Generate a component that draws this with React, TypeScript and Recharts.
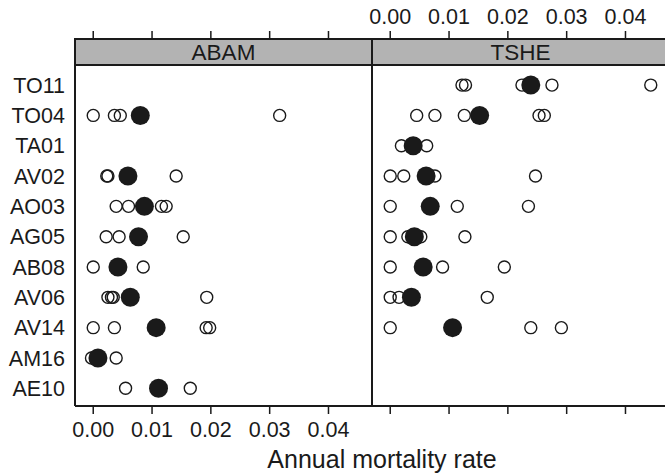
import React from "react";
import { ScatterChart, Scatter, XAxis, YAxis, ReferenceArea } from "recharts";

// sites, top to bottom
const sites = ["TO11", "TO04", "TA01", "AV02", "AO03", "AG05", "AB08", "AV06", "AV14", "AM16", "AE10"];

// per-plot annual mortality rates (open circles), one list per site
const abamPlots: number[][] = [
  [],
  [0.0, 0.0036, 0.0046, 0.0317],
  [],
  [0.0023, 0.0025, 0.0141],
  [0.0039, 0.006, 0.0116, 0.0124],
  [0.0022, 0.0044, 0.0153],
  [0.0, 0.0085],
  [0.0025, 0.0031, 0.0034, 0.0193],
  [0.0, 0.0036, 0.0192, 0.0198],
  [-0.0003, 0.0039],
  [0.0055, 0.0165],
];
// site means (filled circles)
const abamMeans: (number | null)[] = [null, 0.008, null, 0.0059, 0.0087, 0.0077, 0.0042, 0.0063, 0.0107, 0.0008, 0.0111];

const tshePlots: number[][] = [
  [0.0122, 0.0128, 0.0224, 0.0275, 0.0443],
  [0.0045, 0.0076, 0.0126, 0.0253, 0.0262],
  [0.0019, 0.0035, 0.0062],
  [0.0, 0.0023, 0.0076, 0.0247],
  [0.0, 0.0114, 0.0235],
  [0.0, 0.003, 0.0052, 0.0127],
  [0.0, 0.0089, 0.0194],
  [0.0, 0.0015, 0.0165],
  [0.0, 0.0239, 0.0291],
  [],
  [],
];
const tsheMeans: (number | null)[] = [0.0239, 0.0152, 0.0039, 0.0061, 0.0068, 0.0041, 0.0056, 0.0036, 0.0106, null, null];

const xTicks = [0, 0.01, 0.02, 0.03, 0.04];
const xDomain = [-0.0031, 0.0474];
const yDomain = [-0.584, 11.52];
const stripBottom = 10.66;
const rowTicks = sites.map((_, i) => i);

const INK = "#1a1a1a";
const FONT = "'Liberation Sans', Arial, Helvetica, sans-serif";
const fmt = (v: number) => v.toFixed(2);
const blank = () => "";

function OpenDot(p: any) {
  return <circle cx={p.cx} cy={p.cy} r={6} fill="none" stroke={INK} strokeWidth={1.4} />;
}
function MeanDot(p: any) {
  return <circle cx={p.cx} cy={p.cy} r={9.5} fill={INK} stroke="none" />;
}

function Panel({ name, plots, means, first, left, width }: any) {
  const n = sites.length;
  const open = plots.flatMap((vals: number[], i: number) => vals.map((v) => ({ x: v, y: n - 1 - i })));
  const mean = means
    .map((v: number | null, i: number) => (v == null ? null : { x: v, y: n - 1 - i }))
    .filter(Boolean);
  const axisStyle = { stroke: INK, strokeWidth: 2 };
  const tickStyle = { fontSize: 21.5, fill: INK, fontFamily: FONT };
  return (
    <div style={{ position: "absolute", left, top: 0 }}>
      <ScatterChart width={width} height={475} margin={{ top: 9, right: 0, bottom: 29, left: 0 }}>
        <XAxis
          xAxisId="b"
          type="number"
          dataKey="x"
          domain={xDomain}
          allowDataOverflow
          ticks={xTicks}
          tickFormatter={first ? fmt : blank}
          height={40}
          tickSize={8}
          tickMargin={8}
          axisLine={axisStyle}
          tickLine={{ stroke: INK, strokeWidth: 1.5 }}
          tick={tickStyle}
        />
        <XAxis
          xAxisId="t"
          orientation="top"
          type="number"
          dataKey="x"
          domain={xDomain}
          allowDataOverflow
          ticks={xTicks}
          tickFormatter={first ? blank : fmt}
          height={30}
          tickSize={8}
          tickMargin={7}
          axisLine={axisStyle}
          tickLine={{ stroke: INK, strokeWidth: 1.5 }}
          tick={tickStyle}
        />
        <YAxis
          yAxisId="l"
          type="number"
          dataKey="y"
          domain={yDomain}
          allowDataOverflow
          ticks={rowTicks}
          interval={0}
          tickFormatter={first ? (v: number) => sites[n - 1 - v] : blank}
          width={first ? 75 : 10}
          tickSize={0}
          tickMargin={10}
          axisLine={axisStyle}
          tickLine={false}
          tick={tickStyle}
        />
        <ReferenceArea
          xAxisId="b"
          yAxisId="l"
          y1={stripBottom}
          y2={yDomain[1]}
          fill="#b3b3b3"
          fillOpacity={1}
          stroke={INK}
          strokeWidth={2}
          label={{ value: name, position: "center", fontSize: 22.5, fill: INK, fontFamily: FONT }}
        />
        <Scatter xAxisId="b" yAxisId="l" data={open} shape={OpenDot} isAnimationActive={false} />
        <Scatter xAxisId="t" yAxisId="l" data={mean} shape={MeanDot} isAnimationActive={false} />
      </ScatterChart>
    </div>
  );
}

export default function App() {
  return (
    <div
      style={{
        position: "absolute",
        left: 0,
        top: 0,
        width: 665,
        height: 475,
        overflow: "hidden",
        background: "#fff",
        fontFamily: FONT,
      }}
    >
      <Panel name="ABAM" plots={abamPlots} means={abamMeans} first left={0} width={372} />
      <Panel name="TSHE" plots={tshePlots} means={tsheMeans} first={false} left={362} width={307} />
      <div
        style={{
          position: "absolute",
          left: 0,
          width: 764,
          top: 445,
          textAlign: "center",
          fontSize: 25,
          color: INK,
        }}
      >
        Annual mortality rate
      </div>
    </div>
  );
}
